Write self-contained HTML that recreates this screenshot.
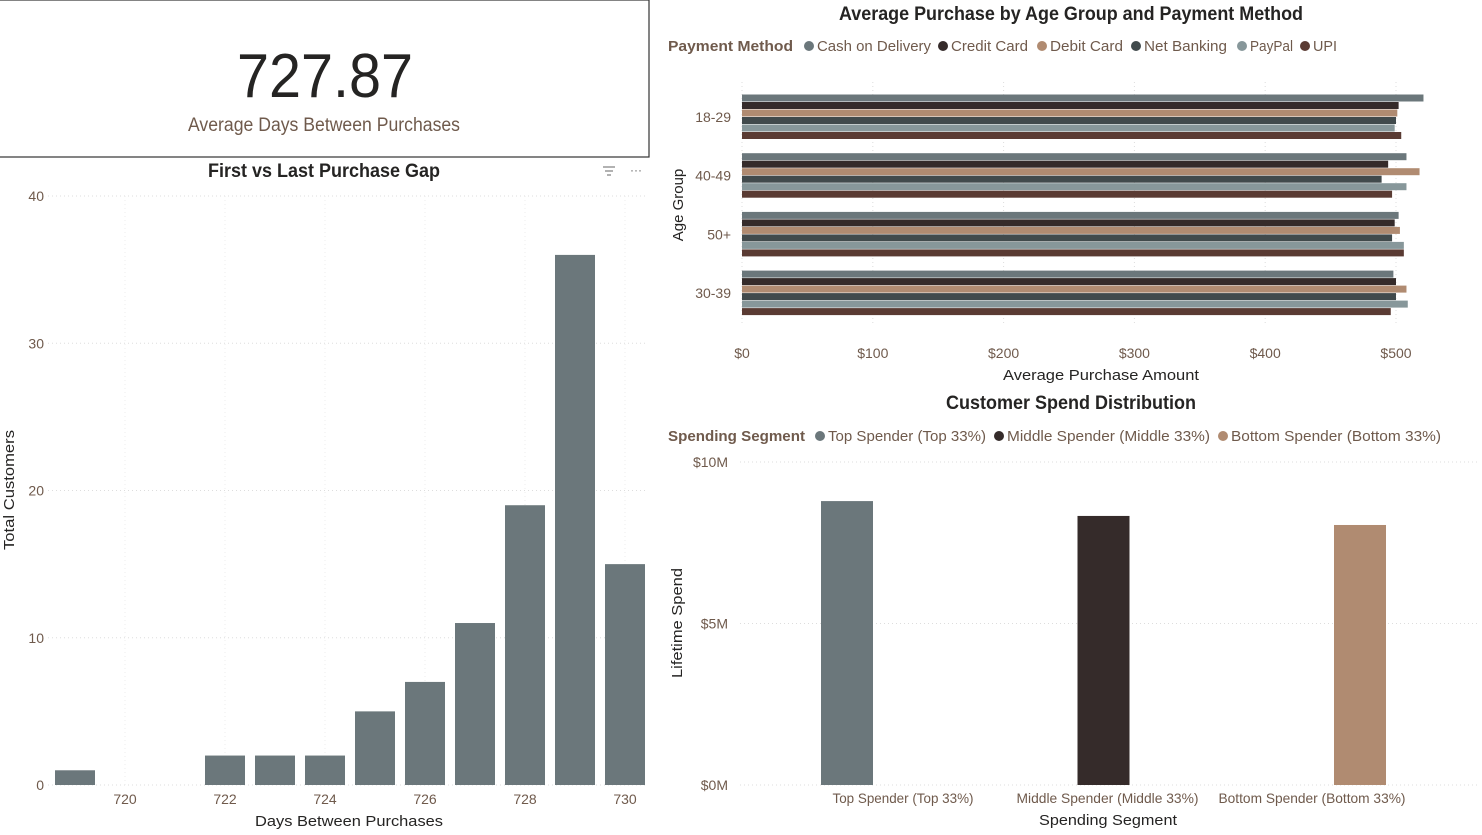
<!DOCTYPE html>
<html><head><meta charset="utf-8"><style>
body{margin:0;background:#fff;width:1482px;height:835px;overflow:hidden;font-family:"Liberation Sans",sans-serif}
svg{position:absolute;left:0;top:0}
</style></head><body>
<svg id="s" width="1482" height="835" xmlns="http://www.w3.org/2000/svg" font-family="Liberation Sans, sans-serif">
<g>
<rect x="-2" y="0" width="651" height="157" fill="#fff" stroke="#333" stroke-width="1.2"/>
<text x="325" y="97" text-anchor="middle" font-size="62" fill="#252423" textLength="176" lengthAdjust="spacingAndGlyphs">727.87</text>
<text x="324" y="131" text-anchor="middle" font-size="19" fill="#6f5a4c" textLength="272" lengthAdjust="spacingAndGlyphs">Average Days Between Purchases</text>
</g>
<text x="324" y="177" text-anchor="middle" font-size="19" font-weight="bold" fill="#252423" textLength="232" lengthAdjust="spacingAndGlyphs">First vs Last Purchase Gap</text>
<g stroke="#666" stroke-width="1"><line x1="603" y1="167" x2="615" y2="167"/><line x1="605" y1="171" x2="613" y2="171"/><line x1="607" y1="175" x2="611" y2="175"/></g>
<text x="636" y="174" text-anchor="middle" font-size="12" fill="#666">···</text>
<text x="14" y="490" transform="rotate(-90 14 490)" text-anchor="middle" font-size="15" fill="#252423" textLength="120" lengthAdjust="spacingAndGlyphs">Total Customers</text>
<text x="349" y="826" text-anchor="middle" font-size="15" fill="#252423" textLength="188" lengthAdjust="spacingAndGlyphs">Days Between Purchases</text>
<g id="gap"></g>

<text x="1071" y="20" text-anchor="middle" font-size="19" font-weight="bold" fill="#252423" textLength="464" lengthAdjust="spacingAndGlyphs">Average Purchase by Age Group and Payment Method</text>
<g id="legend1" font-size="15" fill="#6f5a4c"></g>
<text x="683" y="205" transform="rotate(-90 683 205)" text-anchor="middle" font-size="15" fill="#252423">Age Group</text>
<text x="1101" y="380" text-anchor="middle" font-size="15" fill="#252423" textLength="196" lengthAdjust="spacingAndGlyphs">Average Purchase Amount</text>
<g id="age"></g>

<text x="1071" y="409" text-anchor="middle" font-size="19" font-weight="bold" fill="#252423" textLength="250" lengthAdjust="spacingAndGlyphs">Customer Spend Distribution</text>
<g id="legend2" font-size="15" fill="#6f5a4c"></g>
<text x="682" y="623" transform="rotate(-90 682 623)" text-anchor="middle" font-size="15" fill="#252423" textLength="110" lengthAdjust="spacingAndGlyphs">Lifetime Spend</text>
<text x="1108" y="825" text-anchor="middle" font-size="15" fill="#252423" textLength="138" lengthAdjust="spacingAndGlyphs">Spending Segment</text>
<g id="spend"></g>
</svg>
<script>
const gapDays=[719,720,721,722,723,724,725,726,727,728,729,730];
const gapCounts=[1,0,0,2,2,2,5,7,11,19,36,15];
const gapYTicks=[0,10,20,30,40];
const gapXTicks=[720,722,724,726,728,730];

const ageGroups=["18-29","40-49","50+","30-39"];
const payMethods=["Cash on Delivery","Credit Card","Debit Card","Net Banking","PayPal","UPI"];
const payColors=["#6b777b","#352b2a","#b08b71","#414a4c","#87979a","#5a3b33"];
const cashVals=[521,508,502,498];
const creditVals=[502,494,499,500];
const debitVals=[501,518,503,508];
const netVals=[500,489,497,500];
const paypalVals=[499,508,506,509];
const upiVals=[504,497,506,496];
const ageXTicks=[0,100,200,300,400,500];

const segments=["Top Spender (Top 33%)","Middle Spender (Middle 33%)","Bottom Spender (Bottom 33%)"];
const segColors=["#6b777b","#352b2a","#b08b71"];
const segSpend=[8.79,8.33,8.05];
const spendYTicks=[0,5,10];

const NS="http://www.w3.org/2000/svg";
function mk(tag,attrs,parent,txt){const e=document.createElementNS(NS,tag);for(const k in attrs)e.setAttribute(k,attrs[k]);if(txt!==undefined)e.textContent=txt;parent.appendChild(e);return e;}
const lab="#6f5a4c";

const g1=document.getElementById('gap');
const gy=v=>785-v*14.725, gx=d=>75+(d-719)*50;
gapYTicks.forEach(t=>{
  const l=mk('line',{x1:48,x2:645,y1:gy(t),y2:gy(t),stroke:'#ddd','stroke-dasharray':'1 3'},g1);
  
  
  const tx=mk('text',{x:44,y:gy(t)+5,'text-anchor':'end','font-size':14,fill:lab},g1,t);
  
  
});
gapXTicks.forEach(t=>{
  const l=mk('line',{x1:gx(t),x2:gx(t),y1:196,y2:785,stroke:'#eee','stroke-dasharray':'1 3'},g1);
  
  
  const tx=mk('text',{x:gx(t),y:804,'text-anchor':'middle','font-size':14,fill:lab},g1,t);
  
  
});
gapDays.forEach((d,i)=>{
  if(!gapCounts[i])return;
  const r=mk('rect',{x:gx(d)-20,y:gy(gapCounts[i]),width:40,height:gapCounts[i]*14.725,fill:'#6b777b'},g1);
  
  
});

function legend(id,title,titleLen,items,colors,x0,y,itemX){
  const g=document.getElementById(id);
  const t=mk('text',{x:x0,y:y,'font-weight':'bold',textLength:titleLen,lengthAdjust:'spacingAndGlyphs'},g,title);
  
  
  items.forEach((it,i)=>{
    const c=mk('circle',{cx:itemX[i][0],cy:y-5,r:5,fill:colors[i]},g);
    
    
    const tx=mk('text',{x:itemX[i][0]+8,y:y,textLength:itemX[i][1],lengthAdjust:'spacingAndGlyphs'},g,it);
    
    
  });
}
legend('legend1','Payment Method',125,payMethods,payColors,668,51,[[809,114],[943,77],[1042,73],[1136,83],[1242,43],[1305,24]]);
legend('legend2','Spending Segment',137,segments,segColors,668,441,[[820,158],[999,203],[1223,210]]);

const g2=document.getElementById('age');
const ax=v=>742+v*1.308;
const series=[cashVals,creditVals,debitVals,netVals,paypalVals,upiVals];
ageXTicks.forEach(t=>{
  const l=mk('line',{x1:ax(t),x2:ax(t),y1:82,y2:325,stroke:'#ddd','stroke-dasharray':'1 3'},g2);
  
  
  const tx=mk('text',{x:ax(t),y:358,'text-anchor':'middle','font-size':14,fill:lab},g2,'$'+t);
  
  
});
ageGroups.forEach((a,gi)=>{
  const cy=117+gi*58.7;
  const tx=mk('text',{x:731,y:cy+5,'text-anchor':'end','font-size':14,fill:lab},g2,a);
  
  
  series.forEach((s,si)=>{
    const y=cy-22.5+si*7.5;
    const r=mk('rect',{x:742,y:y,width:ax(s[gi])-742,height:7,fill:payColors[si]},g2);
    
    
  });
});

const g3=document.getElementById('spend');
const sy=v=>785-v*32.3;
const labW=[141,182,187];
spendYTicks.forEach(t=>{
  const l=mk('line',{x1:740,x2:1480,y1:sy(t),y2:sy(t),stroke:'#ddd','stroke-dasharray':'1 3'},g3);
  
  
  const tx=mk('text',{x:728,y:sy(t)+5,'text-anchor':'end','font-size':14,fill:lab},g3,'$'+t+'M');
  
  
});
segments.forEach((s,i)=>{
  const cx=847+i*256.5;
  const r=mk('rect',{x:cx-26,y:sy(segSpend[i]),width:52,height:segSpend[i]*32.3,fill:segColors[i]},g3);
  
  
  const tx=mk('text',{x:903+i*204.5,y:803,'text-anchor':'middle','font-size':14,fill:lab,textLength:labW[i],lengthAdjust:'spacingAndGlyphs'},g3,s);
  
  
});
</script>
</body></html>
